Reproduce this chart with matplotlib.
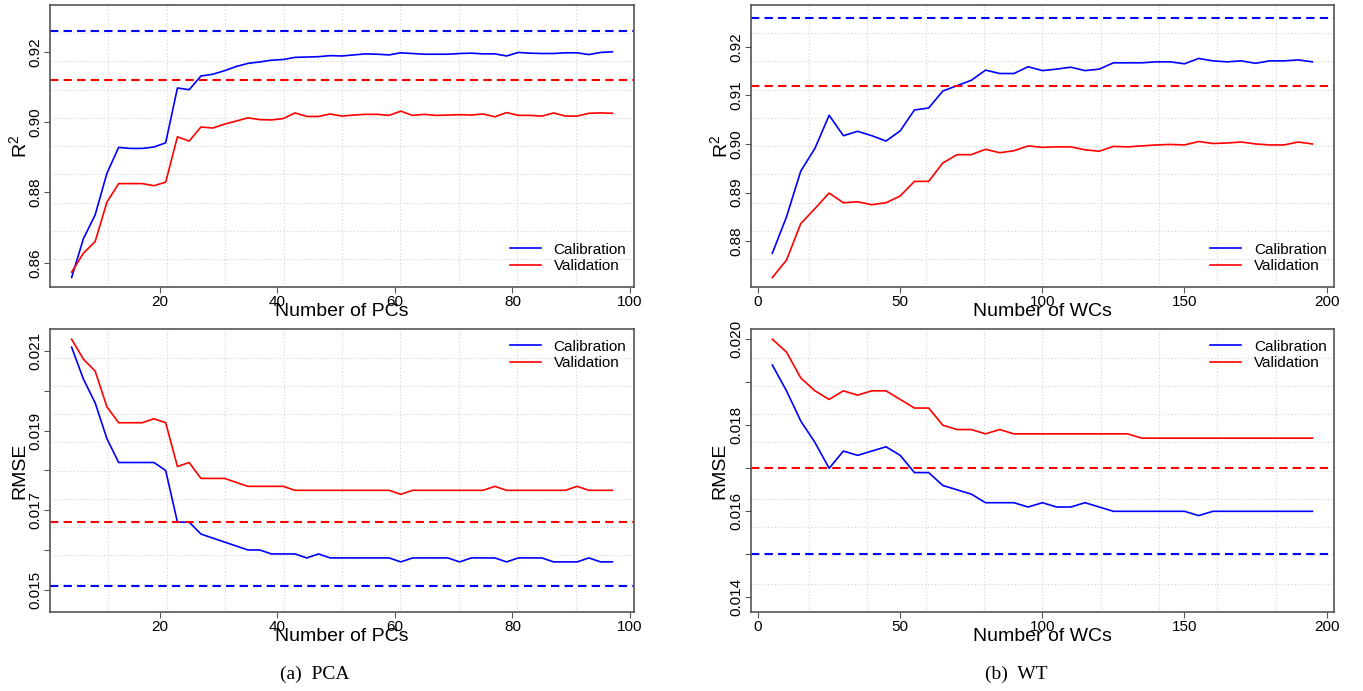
import matplotlib
matplotlib.use("Agg")
import matplotlib.pyplot as plt
from matplotlib import font_manager

# Datos
pcs = list(range(5, 98, 2))
wcs = list(range(5, 196, 5))

pca_r2_cal = [0.8558, 0.8668, 0.8736, 0.8854, 0.8928, 0.8925, 0.8925, 0.8929, 0.8941,
              0.9097, 0.9092, 0.9131, 0.9136, 0.9146, 0.9158, 0.9167, 0.9171, 0.9176,
              0.9178, 0.9184, 0.9185, 0.9186, 0.9189, 0.9188, 0.9191, 0.9194, 0.9193,
              0.9191, 0.9197, 0.9195, 0.9193, 0.9193, 0.9193, 0.9195, 0.9196, 0.9194,
              0.9194, 0.9188, 0.9198, 0.9196, 0.9195, 0.9195, 0.9197, 0.9197, 0.9192,
              0.9198, 0.9200]
pca_r2_val = [0.8573, 0.8627, 0.8660, 0.8772, 0.8825, 0.8825, 0.8825, 0.8819, 0.8829,
              0.8958, 0.8946, 0.8986, 0.8983, 0.8994, 0.9003, 0.9012, 0.9007, 0.9006,
              0.9010, 0.9026, 0.9016, 0.9016, 0.9023, 0.9017, 0.9020, 0.9022, 0.9022,
              0.9019, 0.9031, 0.9019, 0.9022, 0.9019, 0.9020, 0.9021, 0.9020, 0.9023,
              0.9015, 0.9027, 0.9019, 0.9019, 0.9017, 0.9026, 0.9017, 0.9017, 0.9025,
              0.9026, 0.9025]
pca_rmse_cal = [0.0211, 0.0203, 0.0197, 0.0188, 0.0182, 0.0182, 0.0182, 0.0182, 0.0180,
                0.0167, 0.0167, 0.0164, 0.0163, 0.0162, 0.0161, 0.0160, 0.0160, 0.0159,
                0.0159, 0.0159, 0.0158, 0.0159, 0.0158, 0.0158, 0.0158, 0.0158, 0.0158,
                0.0158, 0.0157, 0.0158, 0.0158, 0.0158, 0.0158, 0.0157, 0.0158, 0.0158,
                0.0158, 0.0157, 0.0158, 0.0158, 0.0158, 0.0157, 0.0157, 0.0157, 0.0158,
                0.0157, 0.0157]
pca_rmse_val = [0.0213, 0.0208, 0.0205, 0.0196, 0.0192, 0.0192, 0.0192, 0.0193, 0.0192,
                0.0181, 0.0182, 0.0178, 0.0178, 0.0178, 0.0177, 0.0176, 0.0176, 0.0176,
                0.0176, 0.0175, 0.0175, 0.0175, 0.0175, 0.0175, 0.0175, 0.0175, 0.0175,
                0.0175, 0.0174, 0.0175, 0.0175, 0.0175, 0.0175, 0.0175, 0.0175, 0.0175,
                0.0176, 0.0175, 0.0175, 0.0175, 0.0175, 0.0175, 0.0175, 0.0176, 0.0175,
                0.0175, 0.0175]

wt_r2_cal = [0.8775, 0.8850, 0.8944, 0.8991, 0.9059, 0.9017, 0.9026, 0.9017, 0.9006,
             0.9027, 0.9070, 0.9074, 0.9109, 0.9120, 0.9131, 0.9152, 0.9145, 0.9145,
             0.9159, 0.9151, 0.9154, 0.9158, 0.9151, 0.9154, 0.9167, 0.9167, 0.9167,
             0.9169, 0.9169, 0.9165, 0.9176, 0.9171, 0.9169, 0.9171, 0.9166, 0.9171,
             0.9171, 0.9173, 0.9169]
wt_r2_val = [0.8725, 0.8761, 0.8836, 0.8867, 0.8899, 0.8879, 0.8881, 0.8875, 0.8879,
             0.8893, 0.8923, 0.8923, 0.8961, 0.8978, 0.8978, 0.8989, 0.8982, 0.8986,
             0.8996, 0.8993, 0.8994, 0.8994, 0.8988, 0.8985, 0.8995, 0.8994, 0.8996,
             0.8998, 0.8999, 0.8998, 0.9005, 0.9001, 0.9002, 0.9004, 0.9000, 0.8998,
             0.8998, 0.9004, 0.9000]
wt_rmse_cal = [0.0194, 0.0188, 0.0181, 0.0176, 0.0170, 0.0174, 0.0173, 0.0174, 0.0175,
               0.0173, 0.0169, 0.0169, 0.0166, 0.0165, 0.0164, 0.0162, 0.0162, 0.0162,
               0.0161, 0.0162, 0.0161, 0.0161, 0.0162, 0.0161, 0.0160, 0.0160, 0.0160,
               0.0160, 0.0160, 0.0160, 0.0159, 0.0160, 0.0160, 0.0160, 0.0160, 0.0160,
               0.0160, 0.0160, 0.0160]
wt_rmse_val = [0.0200, 0.0197, 0.0191, 0.0188, 0.0186, 0.0188, 0.0187, 0.0188, 0.0188,
               0.0186, 0.0184, 0.0184, 0.0180, 0.0179, 0.0179, 0.0178, 0.0179, 0.0178,
               0.0178, 0.0178, 0.0178, 0.0178, 0.0178, 0.0178, 0.0178, 0.0178, 0.0177,
               0.0177, 0.0177, 0.0177, 0.0177, 0.0177, 0.0177, 0.0177, 0.0177, 0.0177,
               0.0177, 0.0177, 0.0177]

# Lineas de referencia (discontinuas)
ref_r2_cal, ref_r2_val = 0.926, 0.912
ref_pca_rmse_cal, ref_pca_rmse_val = 0.0151, 0.0167
ref_wt_rmse_cal, ref_wt_rmse_val = 0.0150, 0.0170

# Marcas del eje y (las que no llevan texto quedan con '')
r2_pca_ticks = [0.86, 0.88, 0.90, 0.92]
r2_pca_labels = ['0.86', '0.88', '0.90', '0.92']
r2_wt_ticks = [0.88, 0.89, 0.90, 0.91, 0.92]
r2_wt_labels = ['0.88', '0.89', '0.90', '0.91', '0.92']
rmse_pca_ticks = [0.015, 0.016, 0.017, 0.018, 0.019, 0.020, 0.021]
rmse_pca_labels = ['0.015', '', '0.017', '', '0.019', '', '0.021']
rmse_wt_ticks = [0.014, 0.015, 0.016, 0.017, 0.018, 0.019, 0.020]
rmse_wt_labels = ['0.014', '', '0.016', '', '0.018', '', '0.020']
pc_xticks = [20, 40, 60, 80, 100]
wc_xticks = [0, 50, 100, 150, 200]

series_labels = ["Calibration", "Validation"]
captions = ["(a)  PCA", "(b)  WT"]

# Fuentes
names = {f.name for f in font_manager.fontManager.ttflist}
plt.rcParams['font.family'] = ['Liberation Sans', 'DejaVu Sans']
plt.rcParams['mathtext.fontset'] = 'custom'
plt.rcParams['mathtext.rm'] = 'Liberation Sans'
plt.rcParams['mathtext.it'] = 'Liberation Sans'
if 'Liberation Sans Narrow' in names:
    label_font, label_size = 'Liberation Sans Narrow', 16
else:
    label_font, label_size = 'Liberation Sans', 14

W, H = 1363, 691
fig = plt.figure(figsize=(W / 100, H / 100), dpi=100)


def px_rect(l, t, r, b):
    return [l / W, 1 - b / H, (r - l) / W, (b - t) / H]


def panel(rect, x, cal, val, ref_cal, ref_val, xlim, ylim, yticks, ylabels,
          xticks, xlabel, ylabel, leg_y):
    ax = fig.add_axes(px_rect(*rect))
    ax.set_xlim(*xlim)
    ax.set_ylim(*ylim)
    # rejilla tipo grid(10, 10) de R
    for i in range(1, 10):
        ax.axvline(xlim[0] + i * (xlim[1] - xlim[0]) / 10, color='#d3d3d3',
                   ls=(0, (1, 2)), lw=0.8, zorder=0)
        ax.axhline(ylim[0] + i * (ylim[1] - ylim[0]) / 10, color='#d3d3d3',
                   ls=(0, (1, 2)), lw=0.8, zorder=0)
    ax.plot(x, cal, color='blue', lw=1.2, label=series_labels[0])
    ax.plot(x, val, color='red', lw=1.2, label=series_labels[1])
    ax.axhline(ref_cal, color='blue', ls=(0, (4, 2.5)), lw=1.5)
    ax.axhline(ref_val, color='red', ls=(0, (4, 2.5)), lw=1.5)

    ax.set_xticks(xticks)
    ax.set_yticks(yticks)
    ax.set_yticklabels(ylabels)
    ax.tick_params(direction='out', length=4, width=0.8, color='#555555',
                   labelsize=11, pad=1.5)
    for lab in ax.get_yticklabels():
        lab.set_rotation(90)
        lab.set_va('center')
    for sp in ax.spines.values():
        sp.set_color('#555555')
        sp.set_linewidth(1.2)

    ax.set_xlabel(xlabel, family=label_font, fontsize=label_size)
    ax.xaxis.set_label_coords(0.5, -24 / 282.5)
    ax.xaxis.label.set_va('center')
    ax.set_ylabel(ylabel, family=label_font, fontsize=label_size)
    ax.yaxis.set_label_coords(-0.052, 0.5)
    ax.yaxis.label.set_va('center')

    ax.legend(loc='upper left', bbox_to_anchor=(0.788, leg_y), frameon=False,
              fontsize=11, handlelength=2.0, handletextpad=0.85,
              labelspacing=0.15, borderpad=0, borderaxespad=0)
    return ax


pc_xlim = (5 - 0.04 * 92, 97 + 0.04 * 92)
wc_xlim = (5 - 0.04 * 190, 195 + 0.04 * 190)

panel((50, 5, 634, 287.3), pcs, pca_r2_cal, pca_r2_val, ref_r2_cal, ref_r2_val,
      pc_xlim, (0.8530, 0.9333), r2_pca_ticks, r2_pca_labels, pc_xticks,
      'Number of PCs', r'R$^2$', 0.158)
panel((750.7, 5, 1334, 287.3), wcs, wt_r2_cal, wt_r2_val, ref_r2_cal, ref_r2_val,
      wc_xlim, (0.8705, 0.9286), r2_wt_ticks, r2_wt_labels, wc_xticks,
      'Number of WCs', r'R$^2$', 0.158)
panel((50, 329.3, 634, 612), pcs, pca_rmse_cal, pca_rmse_val, ref_pca_rmse_cal,
      ref_pca_rmse_val, pc_xlim, (0.01444, 0.02155), rmse_pca_ticks, rmse_pca_labels,
      pc_xticks, 'Number of PCs', 'RMSE', 0.963)
panel((750.7, 329.3, 1334, 612), wcs, wt_rmse_cal, wt_rmse_val, ref_wt_rmse_cal,
      ref_wt_rmse_val, wc_xlim, (0.01366, 0.02023), rmse_wt_ticks, rmse_wt_labels,
      wc_xticks, 'Number of WCs', 'RMSE', 0.963)

fig.text(315 / W, 1 - 674 / H, captions[0], family=['Liberation Serif', 'DejaVu Serif'],
         fontsize=14, ha='center', va='center')
fig.text(1016 / W, 1 - 674 / H, captions[1], family=['Liberation Serif', 'DejaVu Serif'],
         fontsize=14, ha='center', va='center')

fig.savefig("out.png", dpi=100)
plt.close(fig)
